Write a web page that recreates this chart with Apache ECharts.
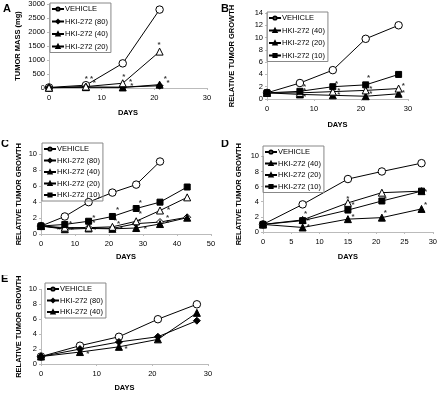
<!DOCTYPE html>
<html>
<head>
<meta charset="utf-8">
<script src="https://cdn.jsdelivr.net/npm/echarts@6/dist/echarts.min.js"></script>
<style>
  body { margin: 0; background: #fff; }
  .panel { position: absolute; }
</style>
</head>
<body>
<div id="pA" class="panel" style="left:0;top:0;width:220px;height:140px"></div>
<div id="pB" class="panel" style="left:220px;top:0;width:220px;height:140px"></div>
<div id="pC" class="panel" style="left:0;top:140px;width:220px;height:135px"></div>
<div id="pD" class="panel" style="left:220px;top:140px;width:220px;height:135px"></div>
<div id="pE" class="panel" style="left:0;top:275px;width:220px;height:122px"></div>
<script>
// panel A - tumor mass (mg)
const daysA = [0, 7, 14, 21];
const vehicleA = [20, 100, 880, 2800];
const hki80A = [10, 30, 30, 80];
const hki40A = [10, 30, 20, 120];
const hki20A = [10, 50, 170, 1300];
const starsA = [[7.1, 330], [8.1, 330], [8.6, 180], [14.2, 415], [15.5, 237], [15.7, 83], [20.9, 1540], [22.1, 330], [22.6, 180]];

// panel B - relative growth
const daysB = [0, 7, 14, 21, 28];
const vehicleB = [1, 2.6, 4.7, 9.8, 12.0];
const hki40B = [1, 0.75, 0.6, 0.45, 0.85];
const hki20B = [1, 1.0, 1.2, 1.4, 1.7];
const hki10B = [1, 1.25, 2.0, 2.3, 4.0];
const starsB = [[8.0, 1.95], [8.0, 1.35], [8.0, 0.3], [14.8, 2.5], [15.3, 1.4], [15.3, 0.7], [21.6, 3.4], [22.1, 1.7], [22.1, 0.9], [29.0, 2.2], [29.0, 1.0]];

// panel C
const daysC = [0, 7, 14, 21, 28, 35, 43];
const vehicleC = [1, 2.2, 4.0, 5.2, 6.2, 9.1];
const hki80C = [1, 0.7, 0.8, 0.7, 1.3, 1.5, 2.1];
const hki40C = [1, 0.6, 0.7, 0.65, 0.75, 1.25, 2.05];
const hki20C = [1, 0.8, 0.8, 0.9, 1.6, 2.95, 4.6];
const hki10C = [1, 1.2, 1.6, 2.2, 3.2, 4.0, 5.9];
const starsC = [[5.2, 0.5], [8.7, 1.3], [9.2, 0.5], [15.5, 2.0], [15.5, 1.4], [15.8, 0.5], [22.5, 3.0], [21.9, 1.7], [22.8, 1.3], [23.6, 0.6], [29.2, 3.9], [29.2, 2.5], [29.0, 1.5], [30.7, 0.6], [37.5, 3.1], [37.2, 2.0], [37.2, 1.4]];

// panel D
const daysD = [0, 7, 15, 21, 28];
const vehicleD = [1, 3.65, 7.0, 8.0, 9.1];
const hki40D = [1, 0.6, 1.7, 1.9, 3.05];
const hki20D = [1, 1.6, 3.85, 5.2, 5.4];
const hki10D = [1, 1.5, 2.9, 4.1, 5.4];
const starsD = [[7.5, 2.4], [8.0, 1.5], [8.0, 0.65], [15.0, 4.4], [15.9, 3.55], [15.9, 2.0], [21.6, 4.4], [21.6, 2.5], [28.7, 5.3], [28.7, 3.55]];

// panel E
const daysE = [0, 7, 14, 21, 28];
const vehicleE = [1, 2.45, 3.65, 6.0, 8.0];
const hki80E = [1, 2.0, 2.95, 3.65, 5.8];
const hki40E = [1, 1.6, 2.3, 3.3, 6.85];
const starsE = [[8.4, 1.4], [15.3, 2.05]];

const FONT = "'Liberation Sans', Arial, sans-serif";

// marker looks
const MARK = {
  vehicle: { symbol: "circle", fill: "#fff", size: 7.5 },
  d80: { symbol: "diamond", fill: "#000", size: 7 },
  d80open: { symbol: "diamond", fill: "#fff", size: 7 },
  d40: { symbol: "triangle", fill: "#000", size: 7 },
  d20: { symbol: "triangle", fill: "#fff", size: 7 },
  d10: { symbol: "rect", fill: "#000", size: 6 },
};

function line(name, days, vals, mk) {
  const m = MARK[mk];
  return {
    name,
    type: "line",
    data: vals.map((v, i) => [days[i], v]),
    symbol: m.symbol,
    symbolSize: m.size,
    showSymbol: true,
    lineStyle: { color: "#000", width: 1 },
    itemStyle: { color: m.fill, borderColor: "#000", borderWidth: 1 },
    emphasis: { disabled: true },
  };
}

function stars(pts) {
  return {
    type: "scatter",
    data: pts,
    symbolSize: 1,
    itemStyle: { color: "rgba(0,0,0,0)" },
    silent: true,
    z: 5,
    label: { show: true, position: "inside", formatter: "*", color: "#000", fontSize: 8, fontWeight: "bold", fontFamily: FONT },
  };
}

function panel(el, p) {
  const chart = echarts.init(document.getElementById(el));
  const names = p.series.map((s) => s.name);
  chart.setOption({
    animation: false,
    title: {
      text: p.letter,
      left: p.letterPos[0],
      top: p.letterPos[1],
      padding: 0,
      textStyle: { fontSize: 11, fontWeight: "bold", color: "#000", fontFamily: FONT },
    },
    grid: { left: p.grid[0], top: p.grid[1], width: p.grid[2], height: p.grid[3] },
    legend: {
      data: names,
      orient: "vertical",
      left: p.legend[0],
      top: p.legend[1],
      itemWidth: 12,
      itemHeight: 4,
      itemGap: p.legend[2],
      padding: [2, 3, 2, 1],
      borderColor: "#888",
      borderWidth: 1,
      selectedMode: false,
      textStyle: { fontSize: 7.5, color: "#000", fontFamily: FONT, padding: [0, 0, 0, -4] },
    },
    xAxis: {
      type: "value",
      min: 0,
      max: p.xMax,
      interval: p.xStep,
      name: "DAYS",
      nameLocation: "middle",
      nameGap: p.xNameGap,
      nameMoveOverlap: false,
      nameTextStyle: { fontSize: 7.5, fontWeight: "bold", color: "#000", fontFamily: FONT },
      axisLine: { lineStyle: { color: "#bbb" } },
      axisTick: { show: true, length: 2, lineStyle: { color: "#bbb" } },
      axisLabel: { fontSize: 7.5, color: "#000", fontFamily: FONT, margin: 6 },
      splitLine: { show: false },
    },
    yAxis: {
      type: "value",
      min: 0,
      max: p.yMax,
      interval: p.yStep,
      name: p.yName,
      nameLocation: "middle",
      nameGap: p.yNameGap,
      nameMoveOverlap: false,
      nameTextStyle: { fontSize: 7.5, fontWeight: "bold", color: "#000", fontFamily: FONT },
      axisLine: { show: true, lineStyle: { color: "#bbb" } },
      axisTick: { show: true, length: 2, lineStyle: { color: "#bbb" } },
      axisLabel: { fontSize: 7.5, color: "#000", fontFamily: FONT, margin: 4, formatter: (v) => String(v) },
      splitLine: { show: false },
    },
    series: [...p.series, stars(p.stars)],
  });
  return chart;
}

const RTG = "RELATIVE TUMOR GROWTH";

panel("pA", {
  letter: "A", letterPos: [3, 3],
  grid: [49, 4, 158, 84],
  legend: [50, 3, 4.5],
  xMax: 30, xStep: 10, xNameGap: 21,
  yMax: 3000, yStep: 500, yName: "TUMOR MASS (mg)", yNameGap: 27,
  series: [
    line("VEHICLE", daysA, vehicleA, "vehicle"),
    line("HKI-272 (80)", daysA, hki80A, "d80"),
    line("HKI-272 (40)", daysA, hki40A, "d40"),
    line("HKI-272 (20)", daysA, hki20A, "d20"),
  ],
  stars: starsA,
});

panel("pB", {
  letter: "B", letterPos: [1, 3],
  grid: [42, 13, 146, 86],
  legend: [47, 12, 4.5],
  xMax: 30, xStep: 10, xNameGap: 22,
  yMax: 14, yStep: 2, yName: RTG, yNameGap: 31,
  series: [
    line("VEHICLE", daysB, vehicleB, "vehicle"),
    line("HKI-272 (40)", daysB, hki40B, "d40"),
    line("HKI-272 (20)", daysB, hki20B, "d20"),
    line("HKI-272 (10)", daysB, hki10B, "d10"),
  ],
  stars: starsB,
});

panel("pC", {
  letter: "C", letterPos: [1, -2],
  grid: [41, 5, 170, 89],
  legend: [42, 3, 3.5],
  xMax: 50, xStep: 10, xNameGap: 19,
  yMax: 10, yStep: 2, yName: RTG, yNameGap: 18,
  series: [
    line("VEHICLE", daysC, vehicleC, "vehicle"),
    line("HKI-272 (80)", daysC, hki80C, "d80open"),
    line("HKI-272 (40)", daysC, hki40C, "d40"),
    line("HKI-272 (20)", daysC, hki20C, "d20"),
    line("HKI-272 (10)", daysC, hki10C, "d10"),
  ],
  stars: starsC,
});

panel("pD", {
  letter: "D", letterPos: [1, -2],
  grid: [43, 5, 173, 87],
  legend: [43, 6, 3.5],
  xMax: 30, xStep: 5, xNameGap: 21,
  yMax: 10, yStep: 2, yName: RTG, yNameGap: 20,
  series: [
    line("VEHICLE", daysD, vehicleD, "vehicle"),
    line("HKI-272 (40)", daysD, hki40D, "d40"),
    line("HKI-272 (20)", daysD, hki20D, "d20"),
    line("HKI-272 (10)", daysD, hki10D, "d10"),
  ],
  stars: starsD,
});

panel("pE", {
  letter: "E", letterPos: [1, -2],
  grid: [41, 7, 167, 87],
  legend: [45, 8, 3.5],
  xMax: 30, xStep: 10, xNameGap: 20,
  yMax: 10, yStep: 2, yName: RTG, yNameGap: 18,
  series: [
    line("VEHICLE", daysE, vehicleE, "vehicle"),
    line("HKI-272 (80)", daysE, hki80E, "d80"),
    line("HKI-272 (40)", daysE, hki40E, "d40"),
  ],
  stars: starsE,
});
</script>
</body>
</html>
